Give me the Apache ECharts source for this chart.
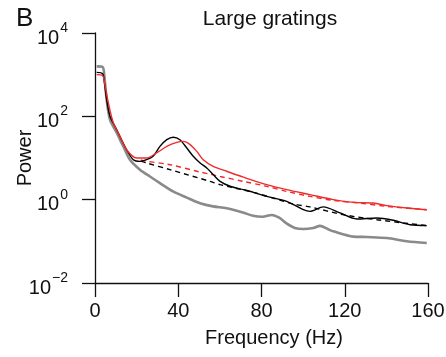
<!DOCTYPE html>
<html>
<head>
<meta charset="utf-8">
<script src="https://cdn.jsdelivr.net/npm/echarts@6/dist/echarts.min.js"></script>
<style>html,body{margin:0;padding:0;background:#fff}#c{width:446px;height:357px}</style>
</head>
<body>
<div id="c"></div>
<script>
var xTicks = [0, 40, 80, 120, 160];
var yTickExponents = [-2, 0, 2, 4];

var grayFreq  = [0.8, 3.7, 4.6, 5.6, 7.2, 10.4, 13.6, 16.8, 21.6, 26.4, 31.2, 37.5, 44.1, 50.5, 56.7, 63.3, 71.1, 76.0, 80.5, 85.0, 88.5, 92.0, 96.0, 100.1, 104.9, 108.1, 112, 114.5, 124.1, 130.6, 140.2, 149.8, 159.4];
var grayPower = [1585, 1520, 800, 251, 83, 40.5, 19, 9.1, 5.25, 3.6, 2.5, 1.58, 1.12, 0.82, 0.69, 0.625, 0.49, 0.41, 0.39, 0.43, 0.37, 0.27, 0.21, 0.198, 0.21, 0.235, 0.195, 0.174, 0.13, 0.127, 0.12, 0.1, 0.091];

var blackFreq  = [0.8, 3.7, 4.6, 5.6, 7.2, 10.4, 15.2, 18.4, 21.6, 24.8, 27.9, 31.2, 34.5, 37.6, 40.8, 44.1, 47.2, 50.5, 53.7, 56.8, 60.1, 64.9, 71.3, 76.1, 82.5, 92.1, 100.1, 103.3, 109.7, 117.7, 125.8, 135.4, 143.3, 151.4, 159.4];
var blackPower = [1135, 1050, 600, 251, 100, 48, 15.8, 9.1, 8.3, 9.1, 11, 19, 27.5, 31.5, 27.5, 17.4, 11, 7.6, 5.75, 4.0, 2.75, 2.1, 1.74, 1.5, 1.2, 0.91, 0.575, 0.525, 0.67, 0.48, 0.344, 0.364, 0.32, 0.25, 0.238];

var redFreq  = [0.8, 3.7, 4.8, 6.4, 8.8, 12.0, 15.2, 20.0, 24.8, 29.6, 34.5, 39.3, 42.4, 45.7, 48.9, 52.0, 56.8, 63.3, 71.3, 82.5, 92.1, 103.3, 114.5, 124.1, 133.7, 140.2, 149.8, 159.4];
var redPower = [1000, 946, 560, 213, 70, 33, 15.8, 10, 10, 13.2, 19, 23.7, 25, 21, 14.4, 9.1, 6.3, 4.8, 3.47, 2.29, 1.74, 1.32, 1.0, 0.86, 0.83, 0.72, 0.63, 0.575];

var blackFitFreq  = [22, 24.8, 36, 55.3, 60.1, 76.1, 95.2, 103.3, 119.3, 135.4, 151.4, 159.4];
var blackFitPower = [8.4, 7.6, 5.25, 2.75, 2.29, 1.5, 0.79, 0.67, 0.436, 0.33, 0.265, 0.238];

var redFitFreq  = [22, 23.2, 36, 50.5, 55.3, 60.1, 71.3, 82.5, 92.1, 103.3, 114.5, 127.3, 140.2, 159.4];
var redFitPower = [9.0, 8.6, 6.9, 4.6, 4.1, 3.6, 2.75, 2.09, 1.58, 1.2, 0.96, 0.83, 0.69, 0.575];

function pts(f, p) { return f.map(function (v, i) { return [v, Math.log10(p[i])]; }); }

var chart = echarts.init(document.getElementById('c'));
var FONT = 'Liberation Sans, Arial, sans-serif';
chart.setOption({
  animation: false,
  title: [
    { text: 'B', left: 11, top: 1, textStyle: { fontFamily: FONT, fontSize: 26, fontWeight: 'normal', color: '#111' } },
    { text: 'Large gratings', left: 265, textAlign: 'center', top: 4, textStyle: { fontFamily: FONT, fontSize: 21, fontWeight: 'normal', color: '#111' } }
  ],
  grid: { left: 95, right: 18, top: 33, bottom: 74, containLabel: false, outerBoundsMode: 'none' },
  xAxis: {
    type: 'value', min: xTicks[0], max: xTicks[xTicks.length - 1], interval: 40,
    name: 'Frequency (Hz)', nameLocation: 'middle', nameGap: 45, nameMoveOverlap: false,
    nameTextStyle: { fontFamily: FONT, fontSize: 20, color: '#111', padding: [0, 0, 0, 25] },
    axisLine: { onZero: false, lineStyle: { color: '#111', width: 1.3 } },
    axisTick: { length: 14, lineStyle: { color: '#111', width: 1.3 } },
    axisLabel: { fontFamily: FONT, fontSize: 20, color: '#111', margin: 18 },
    splitLine: { show: false }
  },
  yAxis: {
    type: 'value', min: yTickExponents[0], max: yTickExponents[yTickExponents.length - 1], interval: 2,
    name: 'Power', nameLocation: 'middle', nameGap: 60, nameMoveOverlap: false,
    nameTextStyle: { fontFamily: FONT, fontSize: 20, color: '#111' },
    axisLine: { onZero: false, lineStyle: { color: '#111', width: 1.3 } },
    axisTick: { length: 13, lineStyle: { color: '#111', width: 1.3 } },
    axisLabel: {
      margin: 27,
      formatter: function (v) { return '{b|10}{s|' + (v < 0 ? '\u2212' + (-v) : v) + '}'; },
      rich: {
        b: { fontFamily: FONT, fontSize: 20, color: '#111', padding: [10, 0, 0, 0] },
        s: { fontFamily: FONT, fontSize: 14, color: '#111', padding: [0, 0, 10, 1] }
      }
    },
    splitLine: { show: false }
  },
  series: [
    { type: 'line', data: pts(grayFreq, grayPower), showSymbol: false, smooth: 0.3, lineStyle: { color: '#8a8a8a', width: 2.6 }, z: 1 },
    { type: 'line', data: pts(blackFitFreq, blackFitPower), showSymbol: false, smooth: 0.3, lineStyle: { color: '#000', width: 1.4, type: [5, 4] }, z: 2 },
    { type: 'line', data: pts(redFitFreq, redFitPower), showSymbol: false, smooth: 0.3, lineStyle: { color: '#ee2b2b', width: 1.4, type: [5, 4] }, z: 2 },
    { type: 'line', data: pts(blackFreq, blackPower), showSymbol: false, smooth: 0.3, lineStyle: { color: '#000', width: 1.4 }, z: 3 },
    { type: 'line', data: pts(redFreq, redPower), showSymbol: false, smooth: 0.3, lineStyle: { color: '#ee2b2b', width: 1.4 }, z: 3 }
  ]
});
</script>
</body>
</html>
